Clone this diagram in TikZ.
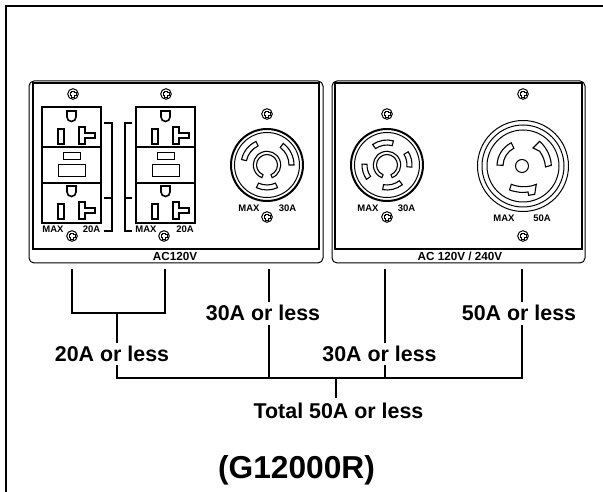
\documentclass[tikz,border=0pt]{standalone}
\usepackage{fontspec}
\setmainfont{Liberation Sans}
\newcommand{\blade}[4]{\draw[bladeline] (#1:#3) arc (#1:#2:#3) -- (#2:#4) arc (#2:#1:#4) -- cycle;}
\tikzset{
  frameline/.style = {line width=2.4pt},
  plateline/.style = {line width=1pt},
  boxline/.style   = {line width=1.6pt},
  bladeline/.style = {line width=1.1pt, fill=white},
  wire/.style      = {line width=1.6pt},
  ratelabel/.style = {font=\fontsize{21.4}{24}\bfseries\selectfont, inner sep=0pt},
  maxlabel/.style  = {font=\fontsize{9.5}{10}\bfseries\selectfont, inner sep=0pt},
  acvlabel/.style  = {font=\fontsize{11.7}{13}\bfseries\selectfont, inner sep=0pt},
  pics/screw/.style = {code={
      \draw[line width=1pt] (0,0) circle (5.3);
      \draw[line width=0.8pt] (-1.2,1.2) -- (-1.2,3) -- (1.2,3) -- (1.2,1.2) -- (3,1.2) -- (3,-1.2)
        -- (1.2,-1.2) -- (1.2,-3) -- (-1.2,-3) -- (-1.2,-1.2) -- (-3,-1.2) -- (-3,1.2) -- cycle;
  }},
  pics/socket/.style = {code={
      % ground slot, then the two blades
      \draw[boxline] (25,-4) -- (34,-4) -- (34,-10) arc (0:-180:4.5) -- cycle;
      \draw[boxline] (16,-22) rectangle (22,-37);
      \draw[boxline] (37,-20) -- (43,-20) -- (43,-26) -- (53,-26) -- (53,-31) -- (43,-31)
        -- (43,-37) -- (37,-37) -- cycle;
  }},
  pics/duplex/.style = {code={
      \draw[line width=1.8pt] (0,0) rectangle (59,-116);
      \draw[boxline] (0,-40) -- (59,-40) (0,-76) -- (59,-76);
      \draw[plateline] (21,-46) rectangle (38,-53);
      \draw[plateline] (16,-58) rectangle (43,-70);
      \pic at (0,0) {socket};
      \pic at (0,-75) {socket};
  }},
  pics/lockring/.style = {code={
      \draw[line width=2pt] (0,0) circle (36);
      \draw[line width=1pt] (0,0) circle (32.5);
      \draw[line width=1.1pt] (-68:13.7) arc (-68:248:13.7) -- (248:10.5) arc (248:-68:10.5) -- cycle;
  }}
}
\begin{document}
\begin{tikzpicture}[x=1pt,y=1pt]
\useasboundingbox (0,0) rectangle (603,492);
\draw[frameline] (6,0) -- (6,486) -- (603,486);

% plates
\draw[plateline, rounded corners=5pt] (29,229) rectangle (323,411);
\draw[plateline, line width=1.4pt] (33,243) -- (33,409) -- (319,409) -- (319,243) -- cycle;
\draw[plateline, rounded corners=5pt] (332,229) rectangle (585,411);
\draw[plateline, line width=1.4pt] (335,243) -- (335,409) -- (582,409) -- (582,243) -- cycle;
\node[acvlabel] (acleft) at (175,236) {AC120V};
\node[acvlabel] (acright) at (460,236) {AC 120V / 240V};

% left plate: duplex outlets
\pic at (42,385) {duplex};
\pic at (136,385) {duplex};
\draw[boxline] (104,369) -- (112,369) -- (112,261) -- (104,261) (104,294) -- (112,294);
\draw[boxline] (132,369) -- (125,369) -- (125,261) -- (132,261) (132,294) -- (125,294);
\foreach \x/\y in {73/398, 166/398, 72/256, 164/256, 267/378, 267/275, 387/378, 387/275, 523/398, 523/256}
  \pic at (\x,\y) {screw};
\node[maxlabel] (max1) at (53,263) {MAX};
\node[maxlabel] (amp1) at (91.5,263) {20A};
\node[maxlabel] (max2) at (146,263) {MAX};
\node[maxlabel] (amp2) at (185,263) {20A};

% 30A lock, three blades
\begin{scope}[shift={(267,327)}]
  \pic {lockring};
  \blade{115}{168}{21}{26}
  \blade{0}{53}{22}{27}
  \blade{-115}{-65}{20}{25}
\end{scope}
\node[maxlabel] (max3) at (249,284) {MAX};
\node[maxlabel] (amp3) at (287.5,284) {30A};

% 30A lock, four blades
\begin{scope}[shift={(387,327)}]
  \pic {lockring};
  \blade{75}{125}{20}{25}
  \blade{-5}{32}{20}{25}
  \blade{178}{215}{20}{25}
  \blade{-100}{-52}{20}{25}
\end{scope}
\node[maxlabel] (max4) at (368,284) {MAX};
\node[maxlabel] (amp4) at (406.5,284) {30A};

% 50A lock
\begin{scope}[shift={(523,326)}]
  \draw[plateline] (0,0) circle (45.5);
  \draw[plateline] (0,0) circle (41);
  \draw[plateline] (0,0) circle (36);
  \draw[plateline] (-1,0) circle (6.5);
  \blade{117}{178}{20}{26}
  \draw[bladeline] (10,18) -- (16.7,24.7) .. controls (24,18) and (28,9) .. (28.3,0.7)
    -- (22.5,-1) .. controls (22,5) and (20,10) .. (16.7,14.7) -- cycle;
  \draw[bladeline] (-11.7,-18.3) .. controls (-4,-21.5) and (6,-21.5) .. (13.3,-18.3)
    -- (11.7,-28.3) -- (5.7,-29.3) -- (5,-26) .. controls (0,-27) and (-6,-26.5) .. (-13.5,-24) -- cycle;
\end{scope}
\node[maxlabel] (max5) at (504,274) {MAX};
\node[maxlabel] (amp5) at (542,274) {50A};

% rating labels
\node[ratelabel] (rate20) at (112,138) {20A or less};
\node[ratelabel] (rate30a) at (263,179) {30A or less};
\node[ratelabel] (rate30b) at (379.5,138) {30A or less};
\node[ratelabel] (rate50) at (519,179) {50A or less};
\node[ratelabel] (total) at (338.5,81) {Total 50A or less};
\node[font=\fontsize{31.7}{34}\bfseries\selectfont, inner sep=0pt] (model) at (296.5,22) {(G12000R)};

% wiring
\coordinate (out20a) at (72,223);
\coordinate (out20b) at (165,223);
\coordinate (out30a) at (269,223);
\coordinate (out30b) at (385,223);
\coordinate (out50) at (522,223);
\coordinate (join20) at (117,179);
\coordinate (bus20) at (117,114);
\coordinate (bus30a) at (269,114);
\coordinate (bus30b) at (385,114);
\coordinate (bus50) at (522,114);
\coordinate (bustotal) at (336,114);
\draw[wire] (out20a) |- (join20) -| (out20b);
\draw[wire] (join20) -- ++(0,-30);
\draw[wire] (bus20 |- 0,127) -- (bus20) -- (bus50) -- (bus50 |- 0,167);
\draw[wire] (out30a) -- (out30a |- 0,190);
\draw[wire] (out30a |- 0,167) -- (bus30a);
\draw[wire] (out30b) -- (out30b |- 0,149);
\draw[wire] (out30b |- 0,127) -- (bus30b);
\draw[wire] (out50) -- (out50 |- 0,190);
\draw[wire] (bustotal) -- (bustotal |- 0,94);
\end{tikzpicture}
\end{document}
